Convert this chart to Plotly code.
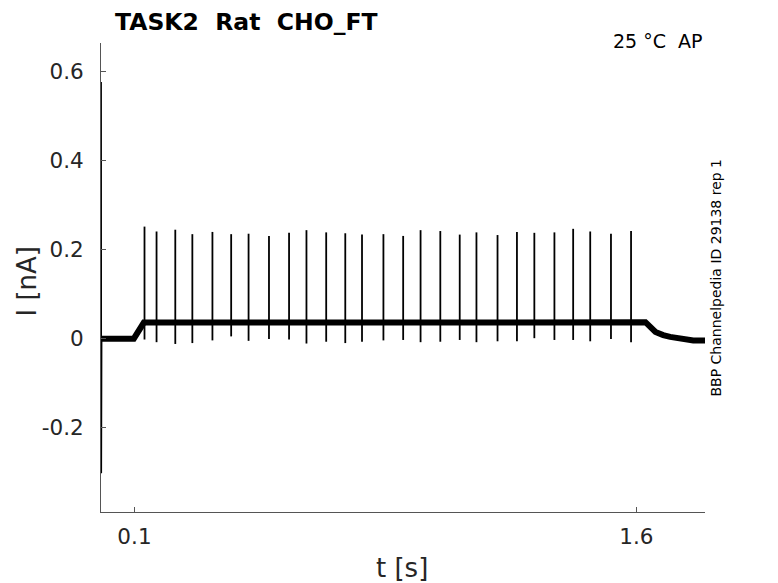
import plotly.graph_objects as go

# spike times [s], peak and trough currents [nA]
spike_t = [0.130, 0.166, 0.222, 0.273, 0.333, 0.389, 0.441, 0.502, 0.562, 0.614,
           0.673, 0.730, 0.780, 0.844, 0.903, 0.955, 1.014, 1.072, 1.122, 1.185,
           1.243, 1.295, 1.355, 1.411, 1.462, 1.524, 1.584]
spike_peak = [0.252, 0.241, 0.245, 0.235, 0.240, 0.235, 0.236, 0.231, 0.238, 0.244,
              0.239, 0.237, 0.234, 0.235, 0.231, 0.244, 0.242, 0.234, 0.239, 0.233,
              0.240, 0.238, 0.239, 0.247, 0.241, 0.236, 0.242]
spike_trough = [-0.002, -0.008, -0.012, -0.010, -0.004, 0.005, -0.005, -0.001, -0.002, -0.011,
                -0.007, -0.010, -0.007, -0.004, -0.003, -0.008, -0.007, -0.003, -0.008, -0.006,
                -0.006, 0.001, -0.003, -0.003, -0.006, -0.001, -0.008]

# slow current (without the spikes)
base_t = [0.0005, 0.0010, 0.0020, 0.098, 0.128, 0.60, 1.10, 1.627, 1.640, 1.657, 1.680, 1.701, 1.770, 1.805]
base_i = [0.577, -0.303, 0.000, 0.000, 0.036, 0.035, 0.036, 0.037, 0.026, 0.015, 0.008, 0.004, -0.004, -0.004]

sx, sy = [], []
for t, p, q in zip(spike_t, spike_peak, spike_trough):
    sx += [t, t, None]
    sy += [q, p, None]

fig = go.Figure()
fig.add_trace(go.Scatter(x=base_t[:3], y=base_i[:3], mode="lines",
                         line=dict(color="black", width=1.5), hoverinfo="skip"))
fig.add_trace(go.Scatter(x=base_t[2:], y=base_i[2:], mode="lines",
                         line=dict(color="black", width=6), hoverinfo="skip"))
fig.add_trace(go.Scatter(x=sx, y=sy, mode="lines",
                         line=dict(color="black", width=1.8), hoverinfo="skip"))

axis_col = "#555555"
txt_col = "#262626"

# page body has an 8px margin, so the figure is a bit smaller than the window
fig.update_layout(
    width=770, height=575,
    margin=dict(l=93, r=73, t=35, b=71),
    paper_bgcolor="white", plot_bgcolor="white",
    showlegend=False,
    font=dict(family="DejaVu Sans", color=txt_col, size=21),
    xaxis=dict(range=[0, 1.805], tickvals=[0.1, 1.6], ticktext=["0.1", "1.6"],
               showgrid=False, zeroline=False, showline=True, linecolor=axis_col, linewidth=1,
               ticks="inside", ticklen=5, tickcolor=axis_col, ticklabelstandoff=5,
               tickfont=dict(size=21.5, color=txt_col)),
    yaxis=dict(range=[-0.39, 0.665], tickvals=[-0.2, 0, 0.2, 0.4, 0.6],
               ticktext=["-0.2", "0", "0.2", "0.4", "0.6"],
               showgrid=False, zeroline=False, showline=True, linecolor=axis_col, linewidth=1,
               ticks="inside", ticklen=5, tickcolor=axis_col, ticklabelstandoff=12,
               tickfont=dict(size=21.5, color=txt_col)),
)

fig.add_annotation(text="<b>TASK2\u00a0\u00a0Rat\u00a0\u00a0CHO_FT</b>", xref="paper", yref="paper",
                   x=0.021, y=1.044, xanchor="left", yanchor="middle", showarrow=False,
                   borderpad=0, font=dict(size=23.5, color="black"))
fig.add_annotation(text="25 °C\u00a0\u00a0AP", xref="paper", yref="paper",
                   x=1.0, y=1.004, xanchor="right", yanchor="middle", showarrow=False,
                   font=dict(size=19, color="black"))
fig.add_annotation(text="BBP Channelpedia ID 29138 rep 1", xref="paper", yref="paper",
                   x=1.019, y=0.501, xanchor="center", yanchor="middle", textangle=-90,
                   showarrow=False, font=dict(size=14, color="black"))
fig.add_annotation(text="t [s]", xref="paper", yref="paper",
                   x=0.499, y=-0.119, xanchor="center", yanchor="middle", showarrow=False,
                   font=dict(size=26, color=txt_col))
fig.add_annotation(text="I [nA]", xref="paper", yref="paper",
                   x=-0.1217, y=0.4925, xanchor="center", yanchor="middle", textangle=-90,
                   showarrow=False, font=dict(size=26, color=txt_col))

fig.write_html("out.html")
